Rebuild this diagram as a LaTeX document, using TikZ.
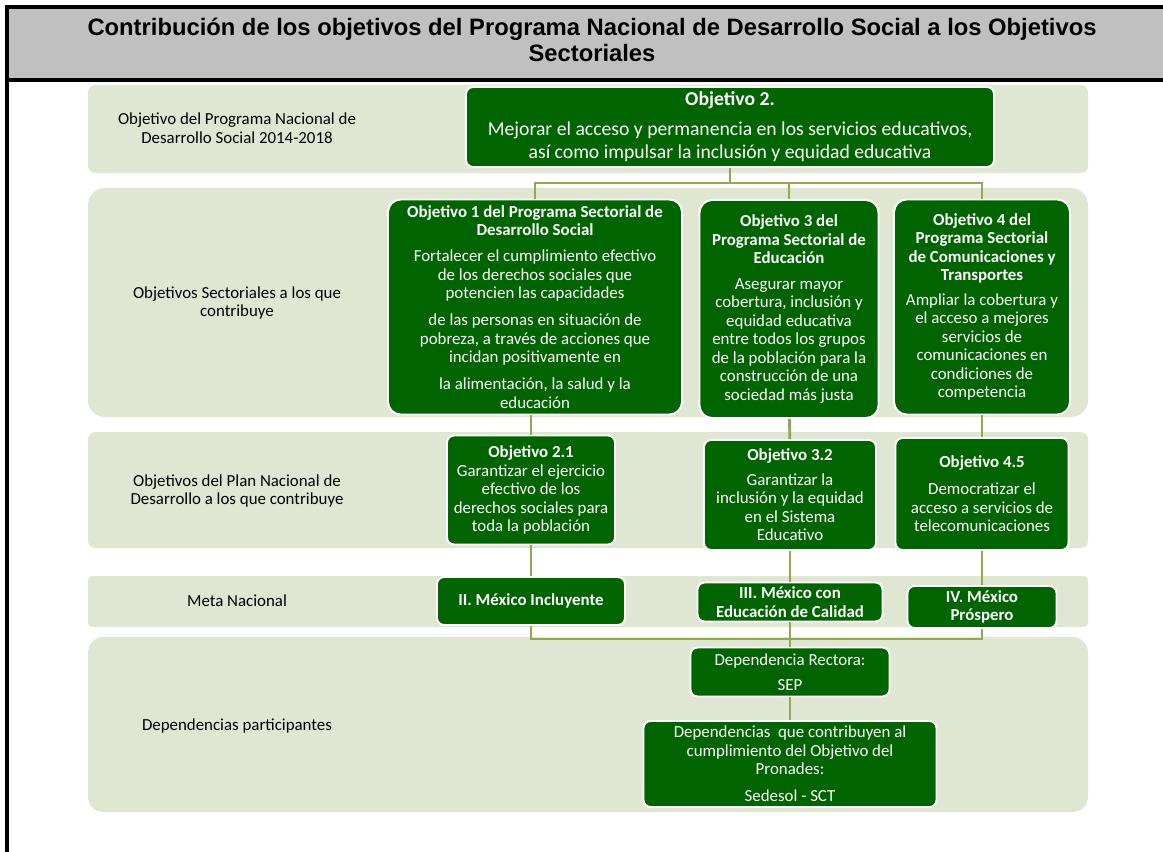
\documentclass[tikz,border=0pt]{standalone}
\usepackage{fontspec}
\setmainfont{Carlito}
\newfontfamily\titlefont{Liberation Sans}
\definecolor{headgray}{RGB}{192,192,192}
\definecolor{bandgreen}{RGB}{223,231,211}
\definecolor{boxgreen}{RGB}{0,100,0}
\definecolor{linkgreen}{RGB}{143,170,80}
\newdimen\pxu
\pxu=0.025cm
\tikzstyle{layer} = [fill=bandgreen, rounded corners=5pt]
\tikzstyle{caption} = [align=center, text=black, font=\fontsize{12}{13.2}\selectfont]
\tikzstyle{greenbox} = [rectangle, rounded corners=5pt, fill=boxgreen, draw=white, line width=1.4pt, text=white, align=center, inner sep=2pt, font=\fontsize{12}{13.2}\selectfont]
\tikzstyle{link} = [draw=linkgreen, line width=2pt]

\begin{document}
\begin{tikzpicture}[x=0.025cm, y=-0.025cm]
	\useasboundingbox (0,0) rectangle (1163,852);

	\fill [headgray] (7,7) rectangle (1163,80);
	\draw [line width=2.2pt] (1163,7) -- (7,7) -- (7,852);
	\draw [line width=2.2pt] (7,80) -- (1163,80);
	\node (title) [align=center, font=\titlefont\bfseries\fontsize{16.9}{18.5}\selectfont] at (592,40) {Contribución de los objetivos del Programa Nacional de Desarrollo Social a los Objetivos\\Sectoriales};

	\fill [layer] (88,85) rectangle (1088,173);
	\fill [layer, rounded corners=12pt] (88,188) rectangle (1088,417);
	\fill [layer] (88,432) rectangle (1088,548);
	\fill [layer, rounded corners=3pt] (88,576) rectangle (1088,627);
	\fill [layer, rounded corners=11pt] (88,637) rectangle (1088,812);

	\node (lblpronades) [caption] at (237,128) {Objetivo del Programa Nacional de\\Desarrollo Social 2014-2018};
	\node (lblsector) [caption] at (237,303) {Objetivos Sectoriales a los que\\contribuye};
	\node (lblplan) [caption] at (237,491) {Objetivos del Plan Nacional de\\Desarrollo a los que contribuye};
	\node (lblmeta) [caption] at (237,601) {Meta Nacional};
	\node (lbldep) [caption] at (237,726) {Dependencias participantes};

	\node (obj2) [greenbox, minimum width=528\pxu, minimum height=80\pxu, font=\fontsize{14}{16.4}\selectfont] at (730,127) {\textbf{Objetivo 2.}\\[5pt]Mejorar el acceso y permanencia en los servicios educativos,\\así como impulsar la inclusión y equidad educativa};

	\node (os1) [greenbox, rounded corners=9pt, minimum width=294\pxu, minimum height=215\pxu] at (535,307) {\textbf{Objetivo 1 del Programa Sectorial de}\\\textbf{Desarrollo Social}\\[5pt]Fortalecer el cumplimiento efectivo\\de los derechos sociales que\\potencien las capacidades\\[6pt]de las personas en situación de\\pobreza, a través de acciones que\\incidan positivamente en\\[6pt]la alimentación, la salud y la\\educación};
	\node (os3) [greenbox, rounded corners=9pt, minimum width=179\pxu, minimum height=218\pxu] at (789,309) {\textbf{Objetivo 3 del}\\\textbf{Programa Sectorial de}\\\textbf{Educación}\\[5pt]Asegurar mayor\\cobertura, inclusión y\\equidad educativa\\entre todos los grupos\\de la población para la\\construcción de una\\sociedad más justa};
	\node (os4) [greenbox, rounded corners=9pt, minimum width=176\pxu, minimum height=215\pxu] at (982,307) {\textbf{Objetivo 4 del}\\\textbf{Programa Sectorial}\\\textbf{de Comunicaciones y}\\\textbf{Transportes}\\[4pt]Ampliar la cobertura y\\el acceso a mejores\\servicios de\\comunicaciones en\\condiciones de\\competencia};

	\node (pn21) [greenbox, minimum width=168\pxu, minimum height=109\pxu] at (531,490) {\textbf{Objetivo 2.1}\\Garantizar el ejercicio\\efectivo de los\\derechos sociales para\\toda la población};
	\node (pn32) [greenbox, minimum width=172\pxu, minimum height=110\pxu] at (790,495) {\textbf{Objetivo 3.2}\\[4pt]Garantizar la\\inclusión y la equidad\\en el Sistema\\Educativo};
	\node (pn45) [greenbox, minimum width=173\pxu, minimum height=112\pxu] at (982,494) {\textbf{Objetivo 4.5}\\[6pt]Democratizar el\\acceso a servicios de\\telecomunicaciones};

	\node (mn2) [greenbox, minimum width=188\pxu, minimum height=48\pxu, font=\bfseries\fontsize{12}{13.2}\selectfont] at (531,601) {II. México Incluyente};
	\node (mn3) [greenbox, minimum width=185\pxu, minimum height=39\pxu, font=\bfseries\fontsize{12}{13.2}\selectfont] at (790,602) {III. México con\\Educación de Calidad};
	\node (mn4) [greenbox, minimum width=149\pxu, minimum height=42\pxu, font=\bfseries\fontsize{12}{13.2}\selectfont] at (982,607) {IV. México\\Próspero};

	\node (rectora) [greenbox, minimum width=199\pxu, minimum height=49\pxu] at (790,672) {Dependencia Rectora:\\[5pt]SEP};
	\node (deps) [greenbox, minimum width=293\pxu, minimum height=86\pxu] at (790,764) {Dependencias~ que contribuyen al\\cumplimiento del Objetivo del\\Pronades:\\[6pt]Sedesol - SCT};

	\coordinate (split) at (730,183);
	\coordinate (join) at (790,639);

	\draw [link] (obj2) -- (split);
	\draw [link] (split) -| (os1);
	\draw [link] (split) -| (os3);
	\draw [link] (split) -| (os4);
	\draw [link] (os1.south -| pn21) -- (pn21);
	\draw [link] (os3) -- (pn32);
	\draw [link] (os4) -- (pn45);
	\draw [link] (pn21) -- (mn2);
	\draw [link] (pn32) -- (mn3);
	\draw [link] (pn45) -- (mn4);
	\draw [link] (mn2) |- (join);
	\draw [link] (mn4) |- (join);
	\draw [link] (mn3) -- (rectora);
	\draw [link] (rectora) -- (deps);
\end{tikzpicture}
\end{document}
